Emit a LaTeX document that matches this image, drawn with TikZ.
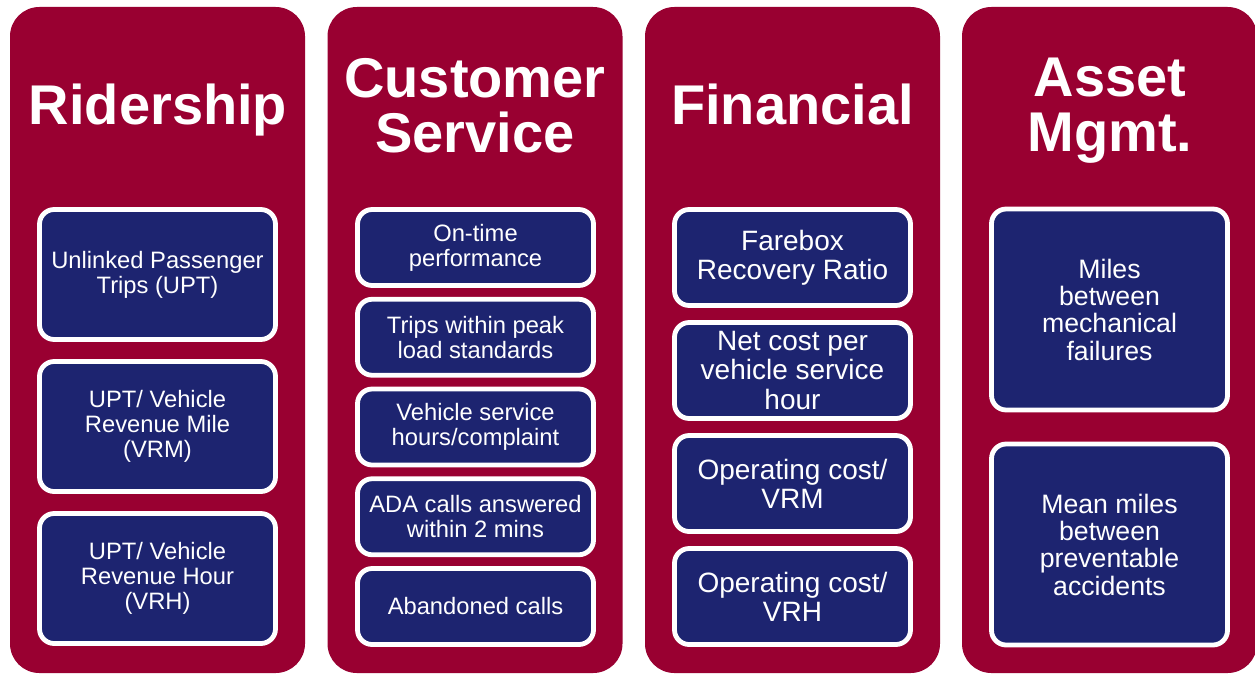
\documentclass[tikz,border=0pt]{standalone}
\usepackage{fontspec}
\setmainfont{Liberation Sans}
\usepackage{xcolor}
\usetikzlibrary{positioning}
\definecolor{kpired}{RGB}{153,0,49}
\definecolor{kpinavy}{RGB}{29,36,112}

\tikzset{
	group/.style={fill=kpired, draw=none, rounded corners=22pt, minimum width=221.25pt, minimum height=499.5pt, inner sep=0pt},
	heading/.style={text=white, align=center, font=\fontsize{42}{41}\selectfont\bfseries},
	kpi/.style={fill=kpinavy, draw=white, line width=3.6pt, rounded corners=11pt, text=white, align=center, inner sep=2pt, minimum width=177pt},
	small/.style={kpi, font=\fontsize{17.8}{18.7}\selectfont},
	big/.style={kpi, font=\fontsize{21}{21.8}\selectfont},
	mid/.style={kpi, font=\fontsize{20}{20.5}\selectfont}
}

\begin{document}
\begin{tikzpicture}[x=0.75pt, y=-0.75pt]
	\useasboundingbox (0,0) rectangle (1255,674);
	\node (rider) [group] at (157.5,340) {};
	\node (cust) [group] at (475,340) {};
	\node (fin) [group] at (792.5,340) {};
	\node (asset) [group] at (1109.5,340) {};
	\node (riderT) [heading] at (158,110) {Ridership};
	\node (custT) [heading] at (475,106) {Customer\\Service};
	\node (finT) [heading] at (792.5,104) {Financial};
	\node (assetT) [heading] at (1110,111) {Asset\\Mgmt.};
	% Ridership
	\node (r1) [small, minimum height=97.5pt] at (157.5,274.5) {Unlinked Passenger\\Trips (UPT)};
	\node (r2) [small, minimum height=97.5pt] at (157.5,426.5) {UPT/ Vehicle\\Revenue Mile\\(VRM)};
	\node (r3) [small, minimum height=97.5pt] at (157.5,578.5) {UPT/ Vehicle\\Revenue Hour\\(VRH)};
	% Customer Service
	\node (c1) [small, minimum height=57pt] at (475.5,247.5) {On-time\\performance};
	\node (c2) [small, minimum height=57pt] at (475.5,337.25) {Trips within peak\\load standards};
	\node (c3) [small, minimum height=57pt] at (475.5,427) {Vehicle service\\hours/complaint};
	\node (c4) [small, minimum height=57pt] at (475.5,516.75) {ADA calls answered\\within 2 mins};
	\node (c5) [small, minimum height=57pt] at (475.5,606.5) {Abandoned calls};
	% Financial
	\node (f1) [big, minimum height=72pt] at (792.5,257.5) {Farebox\\Recovery Ratio};
	\node (f2) [big, minimum height=72pt] at (792.5,370.5) {Net cost per\\vehicle service\\hour};
	\node (f3) [big, minimum height=72pt] at (792.5,483.5) {Operating cost/\\VRM};
	\node (f4) [big, minimum height=72pt] at (792.5,596.5) {Operating cost/\\VRH};
	% Asset Mgmt.
	\node (a1) [mid, minimum height=150.75pt] at (1109.5,309.5) {Miles\\between\\mechanical\\failures};
	\node (a2) [mid, minimum height=150.75pt] at (1109.5,544.5) {Mean miles\\between\\preventable\\accidents};
\end{tikzpicture}
\end{document}
